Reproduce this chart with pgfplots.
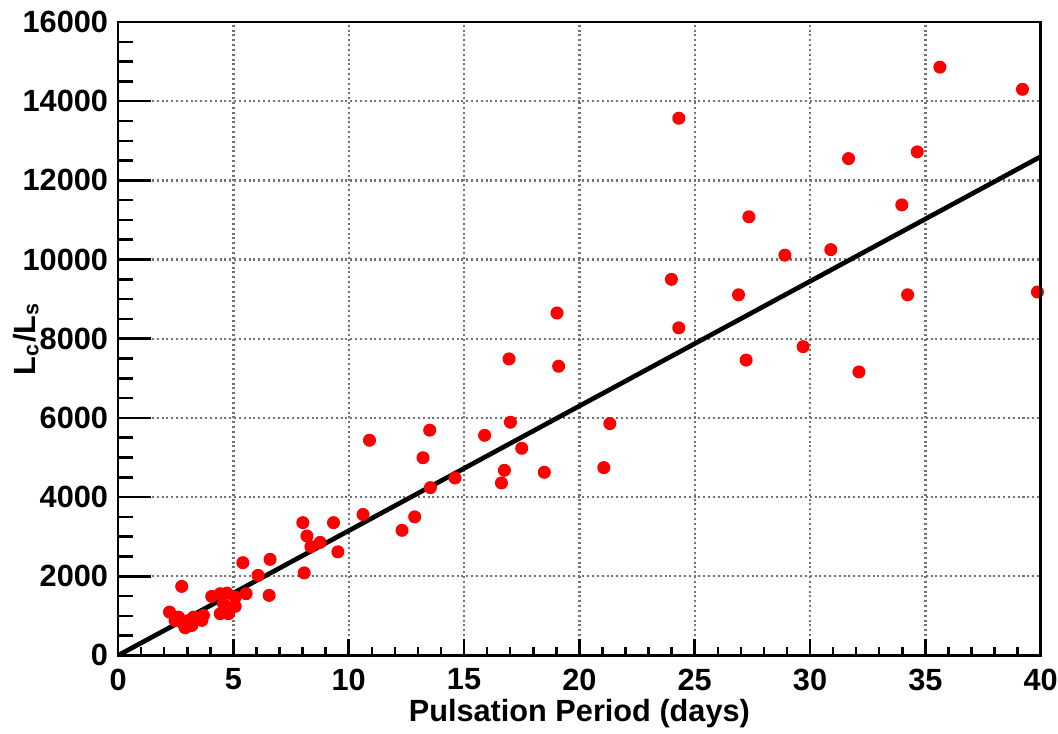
\documentclass[border=0pt]{standalone}
\usepackage{pgfplots}
\pgfplotsset{compat=1.18}
\usepackage{fontspec}
\setmainfont{Liberation Sans}
\pgfplotstableread{
x y
35.63 14860
39.21 14300
24.31 13570
31.67 12550
34.65 12720
33.98 11380
27.35 11080
28.91 10110
30.90 10250
23.99 9500
26.90 9110
34.23 9110
39.86 9180
24.31 8275
29.70 7800
27.23 7460
32.12 7160
19.03 8650
16.95 7490
19.10 7305
17.01 5890
13.51 5690
15.89 5560
21.32 5856
13.22 4994
17.50 5233
16.75 4676
16.62 4356
18.48 4626
21.06 4744
14.61 4482
13.54 4239
10.90 5435
10.62 3560
12.86 3500
12.31 3160
8.01 3354
9.34 3354
8.19 3016
8.36 2750
8.76 2856
9.53 2617
8.07 2085
5.41 2343
6.59 2427
6.07 2022
6.55 1517
5.55 1560
2.76 1744
4.06 1491
4.43 1560
4.72 1575
5.08 1474
4.57 1306
4.69 1220
5.08 1239
4.43 1054
4.79 1054
2.23 1095
2.62 968
2.83 801
2.91 698
3.27 968
3.63 885
3.70 1011
3.20 758
2.47 885
3.05 880
3.41 930
}\datatable
\begin{document}
\begin{tikzpicture}
\pgfplotsset{
  common/.style={
    scale only axis,
    width=276.6pt, height=189.9pt,
    xmin=0, xmax=40, ymin=0, ymax=16000,
    axis line style={line width=0.8pt},
    tick align=inside,
    xtick pos=left, ytick pos=left,
    tick style={black, line width=0.75pt},
    scaled y ticks=false,
  }
}
\begin{axis}[common,
  xtick={0,5,...,40},
  ytick={0,2000,...,16000},
  minor x tick num=4,
  major tick length=5pt, minor tick length=2.4pt,
  ytick style={draw=none},
  xmajorgrids, ymajorgrids,
  major grid style={black!55, line width=0.7pt, dash pattern=on 0.6pt off 0.85pt},
  /pgf/number format/assume math mode=true,
  /pgf/number format/1000 sep={},
  tick label style={font=\fontsize{9.2}{11}\selectfont\bfseries},
  xticklabel style={yshift=-0.5pt},
  yticklabel style={xshift=0.5pt},
  label style={font=\fontsize{9.2}{11}\selectfont\bfseries},
  xlabel={Pulsation Period (days)},
  ylabel={L\textsubscript{c}/L\textsubscript{s}},
  xlabel style={at={(axis description cs:0.5,-0.0916)}, anchor=center},
  ylabel style={at={(axis description cs:-0.1,0.5)}, anchor=center, rotate=0},
]
\addplot[only marks, mark=*, mark size=1.75pt, color=red, fill=red] table[x=x,y=y] {\datatable};
\addplot[black, line width=1.4pt] coordinates {(0,0) (40,12600)};
\end{axis}
\begin{axis}[common,
  xtick=\empty,
  ytick={0,2000,...,16000},
  minor y tick num=3,
  major tick length=10pt, minor tick length=4.5pt,
  yticklabels={},
]
\end{axis}
\pgfresetboundingbox
\path (-35.4pt,-23.4pt) rectangle (281.8pt,196.5pt);
\end{tikzpicture}
\end{document}
